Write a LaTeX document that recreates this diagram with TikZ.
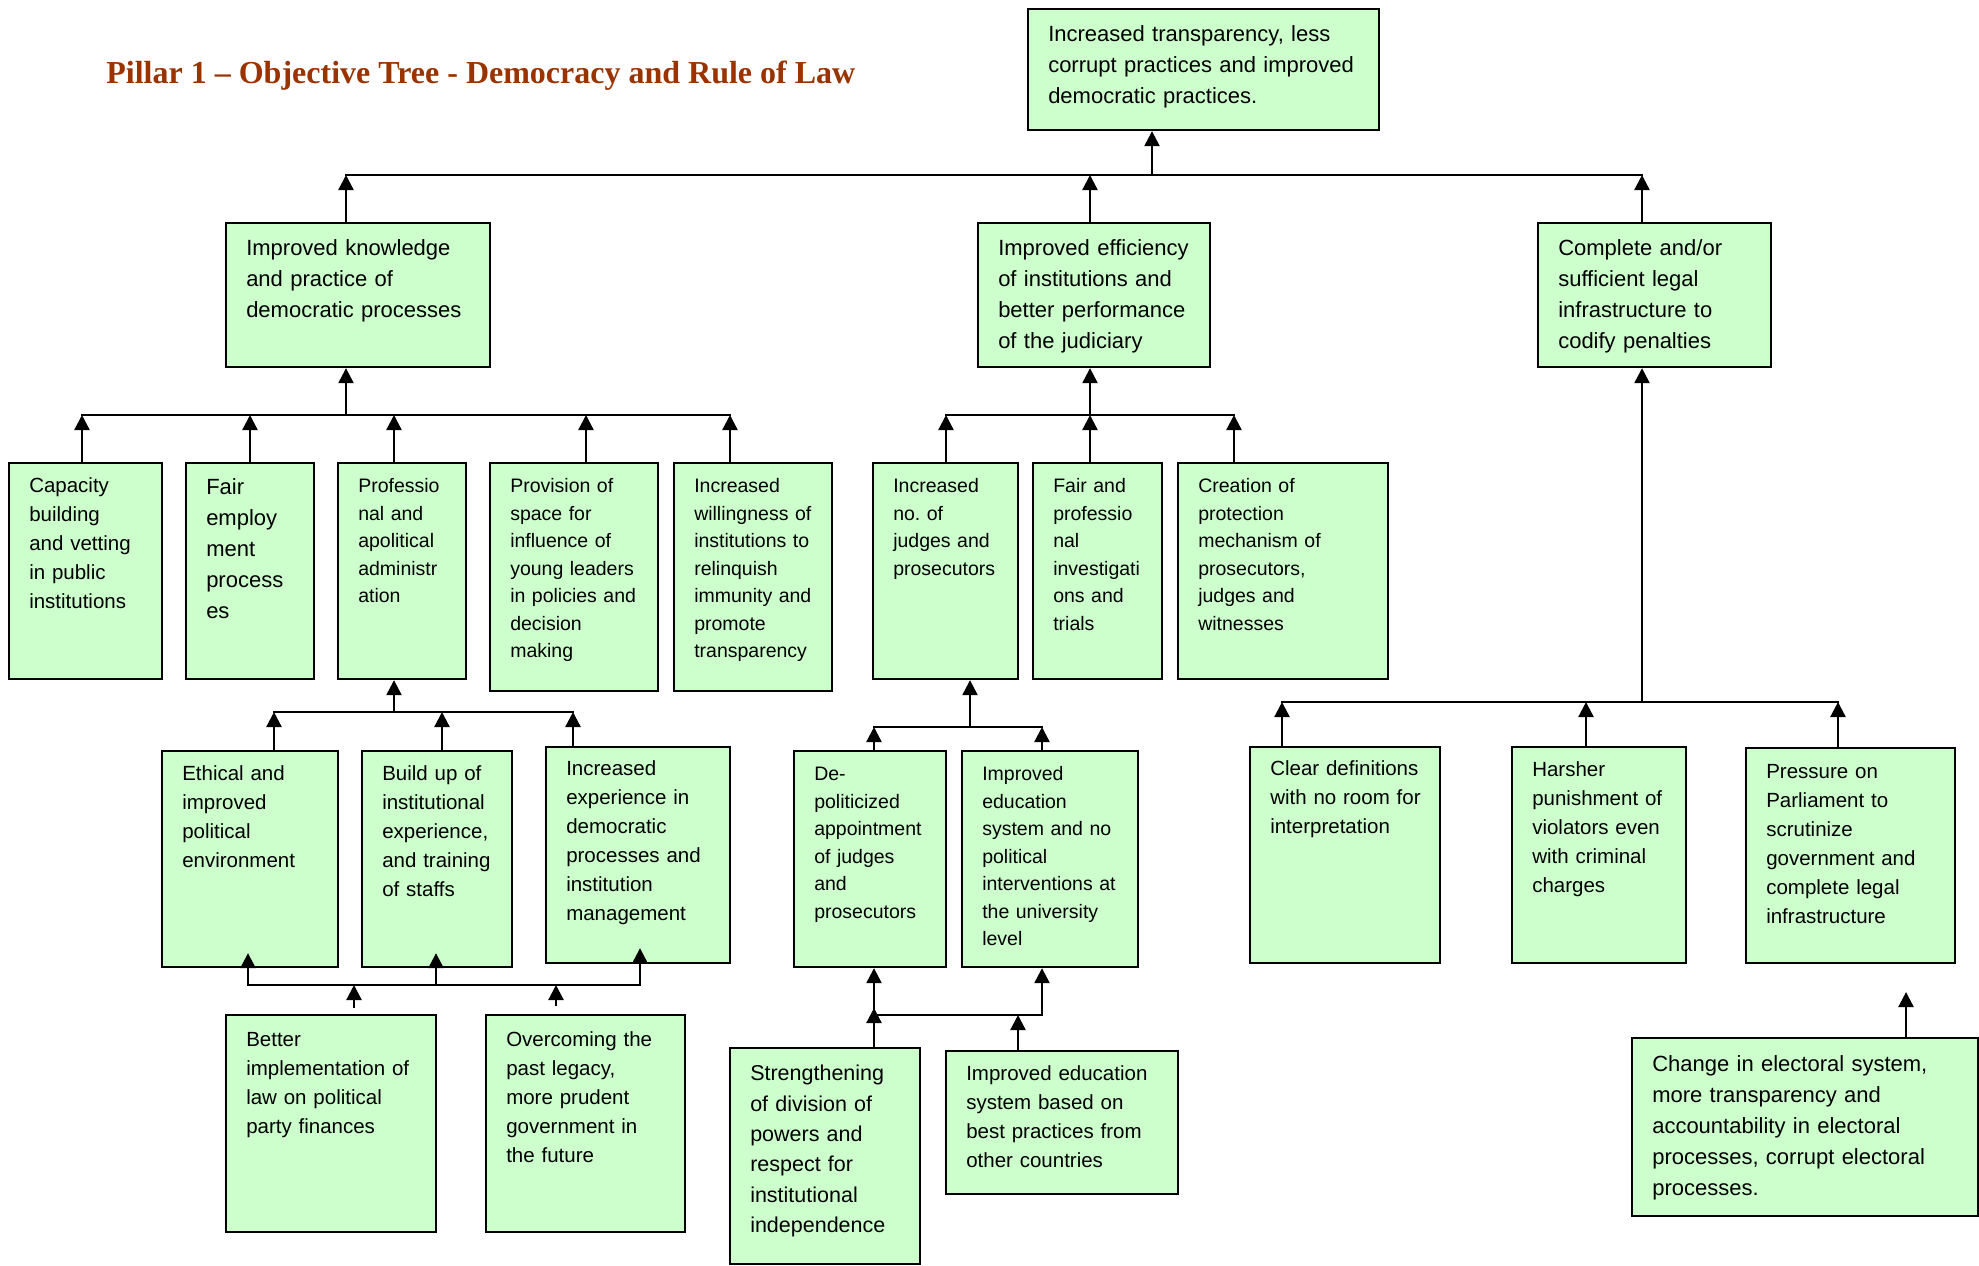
\documentclass[tikz,border=0pt]{standalone}
\usepackage{fontspec}
\setmainfont{Liberation Sans}
\newfontfamily\titlefont{Liberation Serif}
\usetikzlibrary{arrows.meta,calc,fit}
\frenchspacing
\definecolor{boxgreen}{RGB}{204,255,204}
\definecolor{titlecol}{RGB}{153,51,0}
\newcommand\fA{\fontsize{11}{15.5}\selectfont}
\newcommand\fS{\fontsize{10.75}{15.15}\selectfont}
\newcommand\fB{\fontsize{10.25}{14.5}\selectfont}
\newcommand\fC{\fontsize{9.75}{13.75}\selectfont}
\tikzset{
  obox/.style={draw=black,fill=boxgreen,line width=1.15pt,inner sep=0pt,rectangle},
  txt/.style={anchor=base west,inner sep=0pt,text width=250pt,align=left},
  ln/.style={line width=1.15pt},
  busln/.style={line width=1.15pt,line cap=rect},
  conn/.style={line width=1.15pt,-{Triangle[width=7.5pt,length=7.5pt]}}
}
\newcommand\bx[5]{\node[obox,fit={(#2,#3) (#4,#5)}] (#1) {};}
\newcommand\btx[4]{\node[txt,font=#3] (#1t) at ($(#1.north west)+(21,#2)$) {\frenchspacing #4};}
\begin{document}
\begin{tikzpicture}[x=0.5pt,y=-0.5pt]
\useasboundingbox (0,0) rectangle (1979,1265);
\node[anchor=base west,inner sep=0pt,text=titlecol,font=\titlefont\bfseries\fontsize{16}{19}\selectfont] (title) at (106,83) {Pillar 1 – Objective Tree - Democracy and Rule of Law};

% boxes
\bx{T0}{1028}{9}{1379}{130}
\bx{K1}{226}{223}{490}{367}
\bx{K2}{978}{223}{1210}{367}
\bx{K3}{1538}{223}{1771}{367}
\bx{C1}{9}{463}{162}{679}
\bx{C2}{186}{463}{314}{679}
\bx{C3}{338}{463}{466}{679}
\bx{C4}{490}{463}{658}{691}
\bx{C5}{674}{463}{832}{691}
\bx{C6}{873}{463}{1018}{679}
\bx{C7}{1033}{463}{1162}{679}
\bx{C8}{1178}{463}{1388}{679}
\bx{P1}{162}{751}{338}{967}
\bx{P2}{362}{751}{512}{967}
\bx{P3}{546}{747}{730}{963}
\bx{Q1}{794}{751}{946}{967}
\bx{Q2}{962}{751}{1138}{967}
\bx{D1}{1250}{747}{1440}{963}
\bx{D2}{1512}{747}{1686}{963}
\bx{D3}{1746}{748}{1955}{963}
\bx{B1}{226}{1015}{436}{1232}
\bx{B2}{486}{1015}{685}{1232}
\bx{S1}{730}{1048}{920}{1264}
\bx{S2}{946}{1051}{1178}{1194}
\bx{E}{1632}{1038}{1978}{1216}

% texts
\btx{T0}{34}{\fA}{Increased transparency, less\\corrupt practices and improved\\democratic practices.}
\btx{K1}{34}{\fA}{Improved knowledge\\and practice of\\democratic processes}
\btx{K2}{34}{\fA}{Improved efficiency\\of institutions and\\better performance\\of the judiciary}
\btx{K3}{34}{\fA}{Complete and/or\\sufficient legal\\infrastructure to\\codify penalties}
\btx{C1}{31}{\fB}{Capacity\\building\\and vetting\\in public\\institutions}
\btx{C2}{32.5}{\fA}{Fair\\employ\\ment\\process\\es}
\btx{C3}{31}{\fC}{Professio\\nal and\\apolitical\\administr\\ation}
\btx{C4}{31}{\fC}{Provision of\\space for\\influence of\\young leaders\\in policies and\\decision\\making}
\btx{C5}{31}{\fC}{Increased\\willingness of\\institutions to\\relinquish\\immunity and\\promote\\transparency}
\btx{C6}{31}{\fC}{Increased\\no.\ of\\judges and\\prosecutors}
\btx{C7}{31}{\fC}{Fair and\\professio\\nal\\investigati\\ons and\\trials}
\btx{C8}{31}{\fC}{Creation of\\protection\\mechanism of\\prosecutors,\\judges and\\witnesses}
\btx{P1}{31}{\fB}{Ethical and\\improved\\political\\environment}
\btx{P2}{31}{\fB}{Build up of\\institutional\\experience,\\and training\\of staffs}
\btx{P3}{30}{\fB}{Increased\\experience in\\democratic\\processes and\\institution\\management}
\btx{Q1}{31}{\fC}{De-\\politicized\\appointment\\of judges\\and\\prosecutors}
\btx{Q2}{31}{\fC}{Improved\\education\\system and no\\political\\interventions at\\the university\\level}
\btx{D1}{30}{\fB}{Clear definitions\\with no room for\\interpretation}
\btx{D2}{31}{\fB}{Harsher\\punishment of\\violators even\\with criminal\\charges}
\btx{D3}{32}{\fB}{Pressure on\\Parliament to\\scrutinize\\government and\\complete legal\\infrastructure}
\btx{B1}{33}{\fB}{Better\\implementation of\\law on political\\party finances}
\btx{B2}{33}{\fB}{Overcoming the\\past legacy,\\more prudent\\government in\\the future}
\btx{S1}{34}{\fS}{Strengthening\\of division of\\powers and\\respect for\\institutional\\independence}
\btx{S2}{31}{\fB}{Improved education\\system based on\\best practices from\\other countries}
\btx{E}{35}{\fA}{Change in electoral system,\\more transparency and\\accountability in electoral\\processes, corrupt electoral\\processes.}

% junction coordinates
\coordinate (jT) at (1152,175);
\coordinate (jK1) at (346,175);
\coordinate (jK2) at (1090,175);
\coordinate (jK3) at (1642,175);
\coordinate (bK1) at (346,415);
\coordinate (jC1) at (82,415);
\coordinate (jC2) at (250,415);
\coordinate (jC3) at (394,415);
\coordinate (jC4) at (586,415);
\coordinate (jC5) at (730,415);
\coordinate (jC6) at (946,415);
\coordinate (jC7) at (1090,415);
\coordinate (jC8) at (1234,415);
\coordinate (bK3) at (1642,702);
\coordinate (jD1) at (1282,702);
\coordinate (jD2) at (1586,702);
\coordinate (jD3) at (1838,702);
\coordinate (bC3) at (394,712);
\coordinate (jP1) at (274,712);
\coordinate (jP2) at (442,712);
\coordinate (jP3) at (573,712);
\coordinate (bP1) at (248,985);
\coordinate (bP2) at (436,985);
\coordinate (bP3) at (640,985);
\coordinate (bB1) at (354,985);
\coordinate (bB2) at (556,985);
\coordinate (bC6) at (970,727);
\coordinate (jQ1) at (874,727);
\coordinate (jQ2) at (1042,727);
\coordinate (bQ1) at (874,1015);
\coordinate (bQ2) at (1042,1015);
\coordinate (bS2) at (1018,1015);
\coordinate (fE) at (1906,992);

% level 1
\draw[conn] (jT) -- (T0.south -| jT);
\draw[busln] (jK1) -- (jK3);
\draw[conn] (K1.north -| jK1) -- (jK1);
\draw[conn] (K2.north -| jK2) -- (jK2);
\draw[conn] (K3.north -| jK3) -- (jK3);

% under K1
\draw[conn] (bK1) -- (K1.south -| bK1);
\draw[busln] (jC1) -- (jC5);
\draw[conn] (C1.north -| jC1) -- (jC1);
\draw[conn] (C2.north -| jC2) -- (jC2);
\draw[conn] (C3.north -| jC3) -- (jC3);
\draw[conn] (C4.north -| jC4) -- (jC4);
\draw[conn] (C5.north -| jC5) -- (jC5);

% under K2
\draw[conn] (jC7) -- (K2.south -| jC7);
\draw[busln] (jC6) -- (jC8);
\draw[conn] (C6.north -| jC6) -- (jC6);
\draw[conn] (C7.north -| jC7) -- (jC7);
\draw[conn] (C8.north -| jC8) -- (jC8);

% under K3
\draw[conn] (bK3) -- (K3.south -| bK3);
\draw[busln] (jD1) -- (jD3);
\draw[conn] (D1.north -| jD1) -- (jD1);
\draw[conn] (D2.north -| jD2) -- (jD2);
\draw[conn] (D3.north -| jD3) -- (jD3);
\draw[conn] (E.north -| fE) -- (fE);

% under C3
\draw[conn] (bC3) -- (C3.south -| bC3);
\draw[busln] (jP1) -- (jP3);
\draw[conn] (P1.north -| jP1) -- (jP1);
\draw[conn] (P2.north -| jP2) -- (jP2);
\draw[conn] (P3.north -| jP3) -- (jP3);

% below P row
\draw[busln] (bP1) -- (bP3);
\draw[conn] (bP1) -- ($(P1.south -| bP1)+(0,-15)$);
\draw[conn] (bP2) -- ($(P2.south -| bP2)+(0,-15)$);
\draw[conn] (bP3) -- ($(P3.south -| bP3)+(0,-16)$);
\draw[conn,shorten <=3pt] (B1.north -| bB1) -- (bB1);
\draw[conn,shorten <=4pt] (B2.north -| bB2) -- (bB2);

% under C6
\draw[conn] (bC6) -- (C6.south -| bC6);
\draw[busln] (jQ1) -- (jQ2);
\draw[conn] (Q1.north -| jQ1) -- (jQ1);
\draw[conn] (Q2.north -| jQ2) -- (jQ2);

% below Q row
\draw[busln] (bQ1) -- (bQ2);
\draw[conn] (bQ1) -- (Q1.south -| bQ1);
\draw[conn] (bQ2) -- (Q2.south -| bQ2);
\draw[conn] (S1.north -| bQ1) -- ($(bQ1)+(0,-7)$);
\draw[conn] (S2.north -| bS2) -- (bS2);
\end{tikzpicture}
\end{document}
